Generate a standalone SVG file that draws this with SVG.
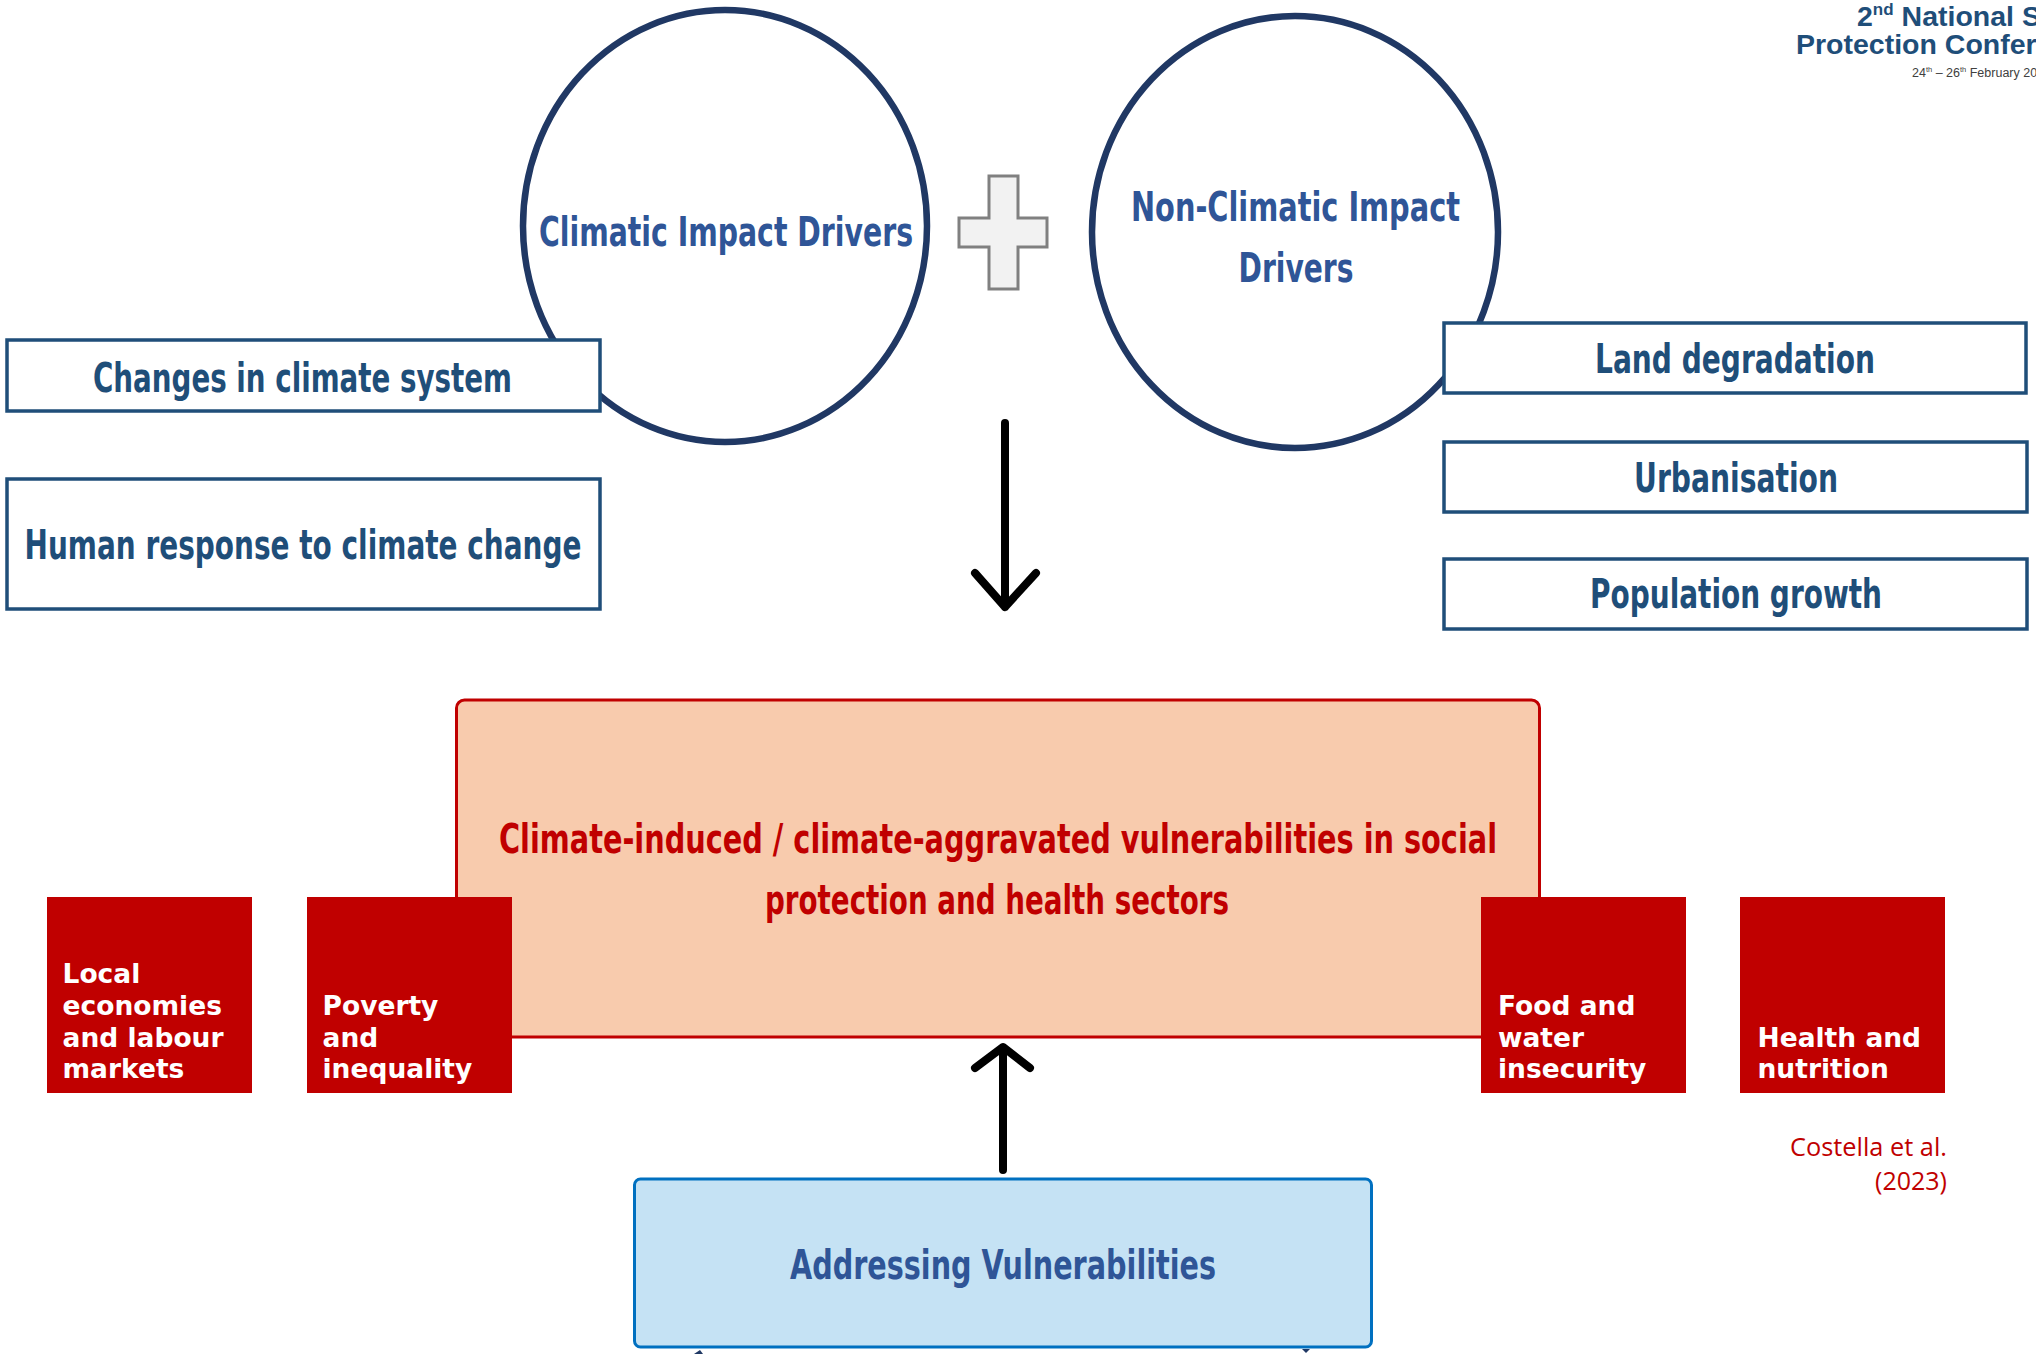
<svg xmlns="http://www.w3.org/2000/svg" width="2036" height="1354" viewBox="0 0 2036 1354">
<style>
.circ{fill:#ffffff;stroke:#203864;stroke-width:6.5}
.box{fill:#ffffff;stroke:#1f4e79;stroke-width:3.5}
.cond{font-family:'Liberation Sans Narrow','DejaVu Sans Condensed','DejaVu Sans',sans-serif;font-weight:bold;font-size:40px;text-anchor:middle}
.ct{fill:#2f5597}
.bt{fill:#1f4e79}
.sq{fill:#c00000}
.sqt{font-family:'DejaVu Sans','Verdana',sans-serif;font-weight:bold;font-size:26.5px;fill:#ffffff}
.arr{fill:none;stroke:#000000;stroke-width:8;stroke-linecap:round;stroke-linejoin:round}
.hdr{font-family:'Liberation Sans',Arial,sans-serif;font-weight:bold;font-size:28.5px;fill:#1f4e79}
</style>

<g id="header">
  <text class="hdr" x="1857" y="26">2<tspan font-size="17" dy="-11">nd</tspan><tspan dy="11"> National S</tspan></text>
  <text class="hdr" x="1796" y="54">Protection Confer</text>
  <text x="1912" y="77" font-family="'Liberation Sans',Arial,sans-serif" font-size="12.5" fill="#404040">24<tspan font-size="7.5" dy="-5">th</tspan><tspan dy="5"> – 26</tspan><tspan font-size="7.5" dy="-5">th</tspan><tspan dy="5"> February 20</tspan></text>
</g>

<g id="climatic-drivers">
  <ellipse class="circ" cx="725" cy="226" rx="202" ry="216"/>
  <text class="cond ct" x="726" y="246" textLength="374" lengthAdjust="spacingAndGlyphs">Climatic Impact Drivers</text>
</g>

<g id="plus">
  <path d="M989,176 H1018 V218 H1047 V247 H1018 V289 H989 V247 H959 V218 H989 Z" fill="#f2f2f2" stroke="#808080" stroke-width="3"/>
</g>

<g id="non-climatic-drivers">
  <ellipse class="circ" cx="1295" cy="232" rx="203" ry="216"/>
  <text class="cond ct" x="1295.5" y="221" textLength="329" lengthAdjust="spacingAndGlyphs">Non-Climatic Impact</text>
  <text class="cond ct" x="1296" y="282" textLength="115" lengthAdjust="spacingAndGlyphs">Drivers</text>
</g>

<g id="changes-climate-system">
  <rect class="box" x="7" y="340" width="593" height="71"/>
  <text class="cond bt" x="302.5" y="392" textLength="419" lengthAdjust="spacingAndGlyphs">Changes in climate system</text>
</g>

<g id="human-response">
  <rect class="box" x="7" y="479" width="593" height="130"/>
  <text class="cond bt" x="303" y="559" textLength="557" lengthAdjust="spacingAndGlyphs">Human response to climate change</text>
</g>

<g id="land-degradation">
  <rect class="box" x="1444" y="323" width="582" height="70"/>
  <text class="cond bt" x="1735" y="373" textLength="280" lengthAdjust="spacingAndGlyphs">Land degradation</text>
</g>

<g id="urbanisation">
  <rect class="box" x="1444" y="442" width="583" height="70"/>
  <text class="cond bt" x="1736" y="492" textLength="204" lengthAdjust="spacingAndGlyphs">Urbanisation</text>
</g>

<g id="population-growth">
  <rect class="box" x="1444" y="559" width="583" height="70"/>
  <text class="cond bt" x="1736" y="608" textLength="292" lengthAdjust="spacingAndGlyphs">Population growth</text>
</g>

<g id="vulnerabilities">
  <rect x="456.5" y="700" width="1083" height="337" rx="8" fill="#f8cbad" stroke="#c00000" stroke-width="3"/>
  <text class="cond" fill="#c00000" x="998" y="853" textLength="998" lengthAdjust="spacingAndGlyphs">Climate-induced / climate-aggravated vulnerabilities in social</text>
  <text class="cond" fill="#c00000" x="997" y="914" textLength="464" lengthAdjust="spacingAndGlyphs">protection and health sectors</text>
</g>

<g id="local-economies">
  <rect class="sq" x="47" y="897" width="205" height="196"/>
  <text class="sqt" x="62.5" y="983">Local</text>
  <text class="sqt" x="62.5" y="1015">economies</text>
  <text class="sqt" x="62.5" y="1047">and labour</text>
  <text class="sqt" x="62.5" y="1078">markets</text>
</g>

<g id="poverty">
  <rect class="sq" x="307" y="897" width="205" height="196"/>
  <text class="sqt" x="322.5" y="1015">Poverty</text>
  <text class="sqt" x="322.5" y="1047">and</text>
  <text class="sqt" x="322.5" y="1078">inequality</text>
</g>

<g id="food-water">
  <rect class="sq" x="1481" y="897" width="205" height="196"/>
  <text class="sqt" x="1498" y="1015">Food and</text>
  <text class="sqt" x="1498" y="1047">water</text>
  <text class="sqt" x="1498" y="1078">insecurity</text>
</g>

<g id="health-nutrition">
  <rect class="sq" x="1740" y="897" width="205" height="196"/>
  <text class="sqt" x="1757.5" y="1047">Health and</text>
  <text class="sqt" x="1757.5" y="1078">nutrition</text>
</g>

<g id="citation">
  <text x="1947" y="1156" text-anchor="end" font-family="'Open Sans','Liberation Sans',sans-serif" font-size="25" fill="#c00000" textLength="157" lengthAdjust="spacingAndGlyphs">Costella et al.</text>
  <text x="1947" y="1190" text-anchor="end" font-family="'Open Sans','Liberation Sans',sans-serif" font-size="25" fill="#c00000">(2023)</text>
</g>

<g id="addressing">
  <rect x="634.5" y="1179" width="737" height="168" rx="6" fill="#c5e2f4" stroke="#0070c0" stroke-width="3"/>
  <text class="cond ct" x="1003" y="1279" textLength="426" lengthAdjust="spacingAndGlyphs">Addressing Vulnerabilities</text>
</g>

<g id="connectors">
  <path class="arr" d="M1005,423 V607 M975,573 L1005,607 L1036,573"/>
  <path class="arr" d="M1003,1170 V1048 M975,1068 L1003,1047 L1030,1068"/>
  <path d="M694,1354 L700,1350 L703,1354 Z" fill="#203864"/>
  <path d="M1302,1349 L1310,1349 L1306,1353 Z" fill="#203864"/>
</g>
</svg>
